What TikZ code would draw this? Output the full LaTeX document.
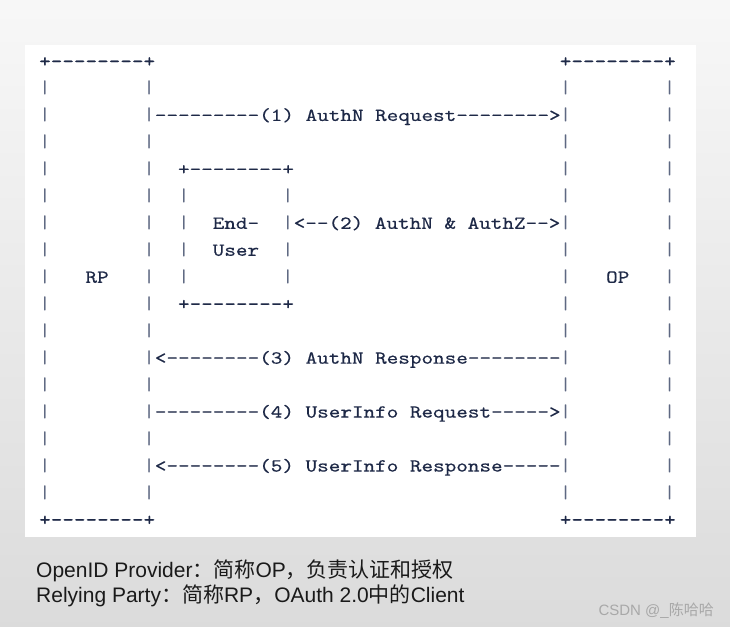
\documentclass[tikz,border=0pt]{standalone}
\usepackage{fontspec}
\setmainfont{Liberation Sans}
\setmonofont{Liberation Mono}
\newfontfamily\cjk{Noto Sans CJK SC}
\newfontfamily\asciifont{lmmono10-regular.otf}[FakeStretch=1.2,FakeBold=0.35]
\newfontfamily\barfont{lmmono10-regular.otf}[FakeStretch=1.2]
\definecolor{txtc}{HTML}{1E2947}
\definecolor{barc}{HTML}{5E6882}
\definecolor{capc}{HTML}{1A1A1A}
\definecolor{wmc}{HTML}{A8A8A8}
\tikzset{
  asc/.style={anchor=base west, inner sep=0pt, outer sep=0pt,
    font=\asciifont\fontsize{18.4}{21}\selectfont},
  barstyle/.style={asc, font=\barfont\fontsize{18.4}{21}\selectfont},
  captext/.style={anchor=base west, inner sep=0pt, text=capc,
    font=\fontsize{21}{24}\selectfont},
}
\newcommand\asc[4]{\node[asc,text=#4] (a-#1-#2) at ({39.2+#2*11.57},{67+#1*26.97}) {#3};}
\newcommand\ascbar[2]{\node[barstyle,text=barc] (b-#1-#2) at ({39.2+#2*11.57},{67+#1*26.97}) {|};}
\begin{document}
\begin{tikzpicture}[x=1pt,y=-1pt]
\useasboundingbox (0,0) rectangle (730,626);
\shade[top color=white!97!black, bottom color=white!86!black] (0,0) rectangle (730,626);
\fill[white] (25,45) rectangle (696,537);
% outer boxes
\asc{0}{0}{+--------+}{txtc}
\asc{0}{45}{+--------+}{txtc}
\asc{17}{0}{+--------+}{txtc}
\asc{17}{45}{+--------+}{txtc}
\foreach \r in {1,...,16}{
  \foreach \c in {0,9,45,54}{
    \ascbar{\r}{\c}
  }
}
% end-user box
\asc{4}{12}{+--------+}{txtc}
\asc{9}{12}{+--------+}{txtc}
\foreach \r in {5,...,8}{
  \foreach \c in {12,21}{
    \ascbar{\r}{\c}
  }
}
\asc{6}{15}{End-}{txtc}
\asc{7}{15}{User}{txtc}
\asc{8}{4}{RP}{txtc}
\asc{8}{49}{OP}{txtc}
% messages
\asc{2}{10}{---------(1) AuthN Request-------->}{txtc}
\asc{6}{22}{<--(2) AuthN \& AuthZ-->}{txtc}
\asc{11}{10}{<--------(3) AuthN Response--------}{txtc}
\asc{13}{10}{---------(4) UserInfo Request----->}{txtc}
\asc{15}{10}{<--------(5) UserInfo Response-----}{txtc}
% captions
\node[captext] (cap1) at (36,577) {OpenID Provider{\cjk ：简称}OP{\cjk ，负责认证和授权}};
\node[captext] (cap2) at (36,602) {Relying Party{\cjk ：简称}RP{\cjk ，}OAuth 2.0{\cjk 中的}Client};
\node[anchor=base east, inner sep=0pt, text=wmc, font=\fontsize{15}{18}\selectfont] (wm) at (714,615) {CSDN @\_{\cjk 陈哈哈}};
\end{tikzpicture}
\end{document}
